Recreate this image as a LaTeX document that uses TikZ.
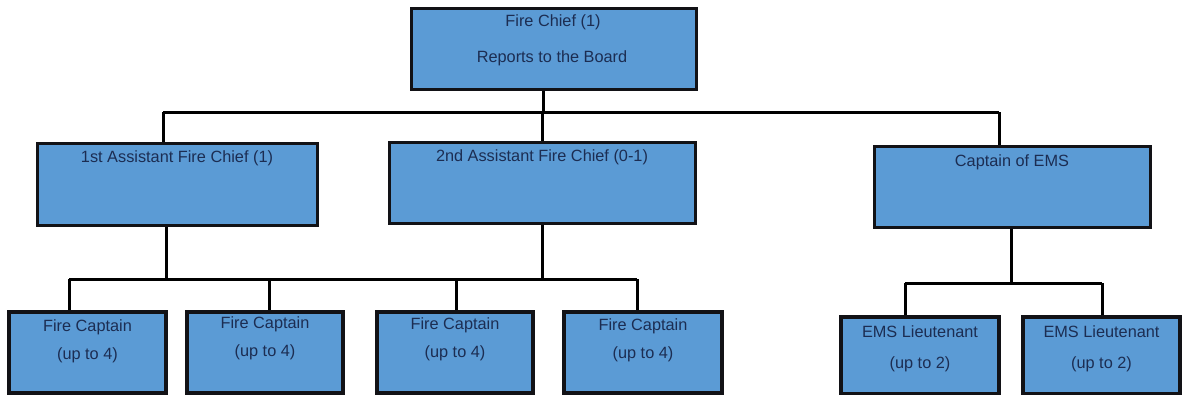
\documentclass[tikz,border=0pt]{standalone}
\usepackage{fontspec}
\setmainfont{Liberation Sans}
\definecolor{boxfill}{RGB}{91,155,213}
\definecolor{boxline}{RGB}{18,18,22}
\definecolor{txtcol}{RGB}{28,45,82}
\begin{document}
\begin{tikzpicture}[x=1pt,y=-1pt,
  box/.style={draw=boxline, fill=boxfill, line width=3pt, inner sep=0pt},
  lowbox/.style={box, line width=3.6pt},
  txt/.style={text=txtcol, inner sep=0pt, font=\fontsize{16.3}{19}\selectfont},
  conn/.style={draw=black, line width=3pt}]
\useasboundingbox[fill=white] (0,0) rectangle (1182,394);

% boxes
\node[box, minimum width=285pt, minimum height=81pt] (top) at (553.5,48.5) {};
\node[box, minimum width=280pt, minimum height=82pt] (a1) at (177,184) {};
\node[box, minimum width=306pt, minimum height=81pt] (a2) at (542,182.5) {};
\node[box, minimum width=276pt, minimum height=81pt] (ems) at (1012,186.5) {};
\node[lowbox, minimum width=157pt, minimum height=81pt] (fc1) at (87.5,352.5) {};
\node[lowbox, minimum width=156pt, minimum height=81pt] (fc2) at (265,352.5) {};
\node[lowbox, minimum width=156pt, minimum height=81pt] (fc3) at (455,352.5) {};
\node[lowbox, minimum width=158pt, minimum height=81pt] (fc4) at (643,352.5) {};
\node[lowbox, minimum width=158pt, minimum height=77pt] (el1) at (920,355.5) {};
\node[lowbox, minimum width=157pt, minimum height=77pt] (el2) at (1101.5,355.5) {};

% junction coordinates
\coordinate (j0) at (543,112);
\coordinate (j0l) at (163,112);
\coordinate (j0m) at (542,112);
\coordinate (j0r) at (999,112);
\coordinate (j1a) at (166,279);
\coordinate (j1b) at (542,279);
\coordinate (j1l) at (69,279);
\coordinate (j1c) at (269,279);
\coordinate (j1d) at (456,279);
\coordinate (j1r) at (637,279);
\coordinate (j2) at (1011,283);
\coordinate (j2l) at (905,283);
\coordinate (j2r) at (1102,283);

% connectors
\draw[conn] (top.south -| j0) -- (j0);
\draw[conn] (j0l) -- (j0r);
\draw[conn] (j0l) -- (a1.north -| j0l);
\draw[conn] (j0m) -- (a2.north -| j0m);
\draw[conn] (j0r) -- (ems.north -| j0r);
\draw[conn] (a1.south -| j1a) -- (j1a);
\draw[conn] (a2.south -| j1b) -- (j1b);
\draw[conn] (j1l) -- (j1r);
\draw[conn] (j1l) -- (fc1.north -| j1l);
\draw[conn] (j1c) -- (fc2.north -| j1c);
\draw[conn] (j1d) -- (fc3.north -| j1d);
\draw[conn] (j1r) -- (fc4.north -| j1r);
\draw[conn] (ems.south -| j2) -- (j2);
\draw[conn] (j2l) -- (j2r);
\draw[conn] (j2l) -- (el1.north -| j2l);
\draw[conn] (j2r) -- (el2.north -| j2r);

% texts
\node[txt] (t0a) at (553,22) {Fire Chief (1)};
\node[txt] (t0b) at (552,58) {Reports to the Board};
\node[txt] (ta1) at (177,158) {1st Assistant Fire Chief (1)};
\node[txt] (ta2) at (542,157) {2nd Assistant Fire Chief (0-1)};
\node[txt] (tems) at (1012,162) {Captain of EMS};
\node[txt] (tf1a) at (87.5,327) {Fire Captain};
\node[txt] (tf1b) at (87.5,355) {(up to 4)};
\node[txt] (tf2a) at (265,324) {Fire Captain};
\node[txt] (tf2b) at (265,352) {(up to 4)};
\node[txt] (tf3a) at (455,325) {Fire Captain};
\node[txt] (tf3b) at (455,353) {(up to 4)};
\node[txt] (tf4a) at (643,326) {Fire Captain};
\node[txt] (tf4b) at (643,354) {(up to 4)};
\node[txt] (te1a) at (920,332) {EMS Lieutenant};
\node[txt] (te1b) at (920,364) {(up to 2)};
\node[txt] (te2a) at (1101.5,332) {EMS Lieutenant};
\node[txt] (te2b) at (1101.5,364) {(up to 2)};
\end{tikzpicture}
\end{document}
